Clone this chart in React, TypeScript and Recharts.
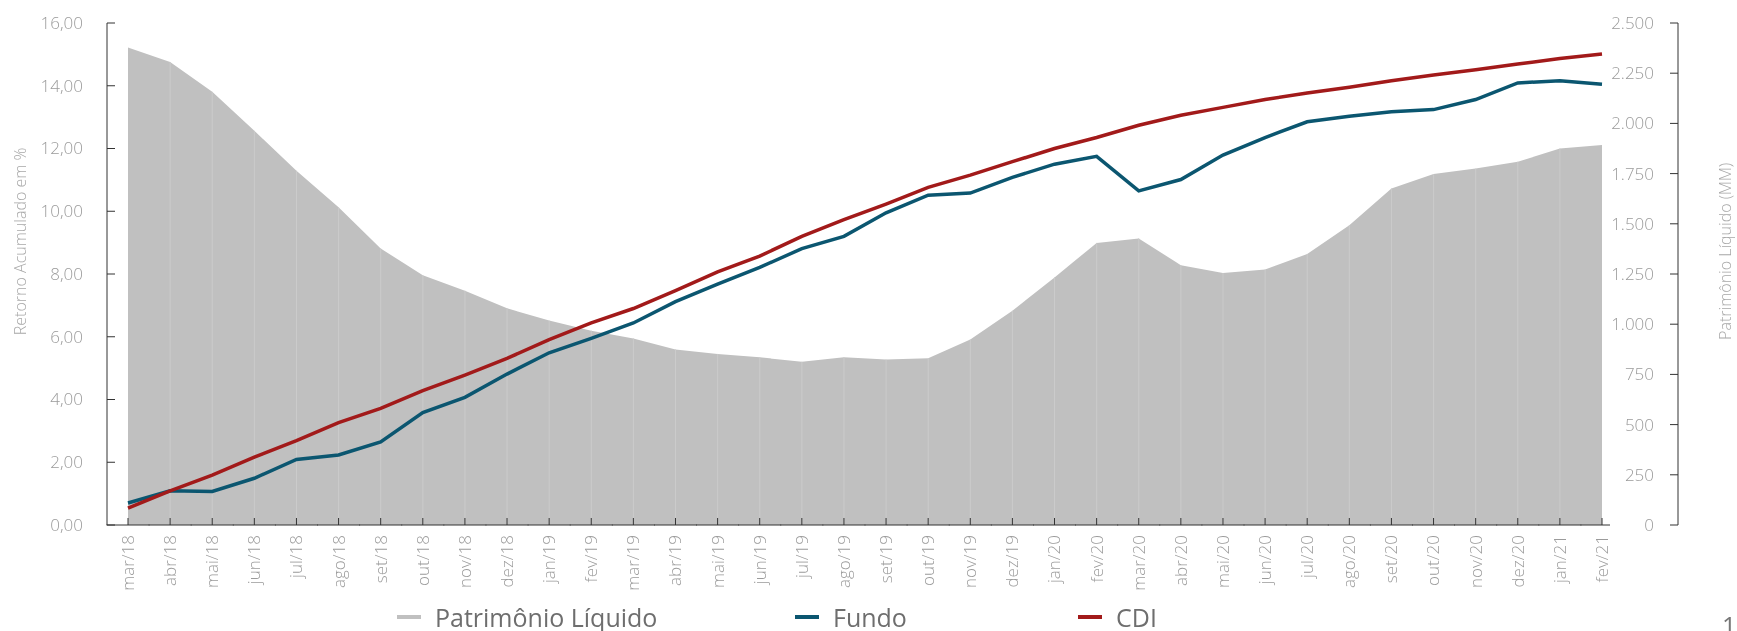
import { ComposedChart, Area, Line, XAxis, YAxis, ReferenceLine, Legend } from "recharts"

const months = [
  "mar/18", "abr/18", "mai/18", "jun/18", "jul/18", "ago/18", "set/18", "out/18", "nov/18", "dez/18",
  "jan/19", "fev/19", "mar/19", "abr/19", "mai/19", "jun/19", "jul/19", "ago/19", "set/19", "out/19", "nov/19", "dez/19",
  "jan/20", "fev/20", "mar/20", "abr/20", "mai/20", "jun/20", "jul/20", "ago/20", "set/20", "out/20", "nov/20", "dez/20",
  "jan/21", "fev/21",
]

// Patrimônio Líquido (MM) - eixo direito
const patrimonio = [
  2378, 2306, 2157, 1963, 1764, 1582, 1377, 1244, 1167, 1079,
  1018, 968, 929, 874, 852, 835, 813, 835, 824, 830, 924, 1067,
  1233, 1405, 1427, 1294, 1255, 1272, 1350, 1493, 1676, 1748, 1775, 1809,
  1875, 1892,
]

// Retorno acumulado em % - eixo esquerdo
const fundo = [
  0.7, 1.09, 1.07, 1.49, 2.09, 2.23, 2.65, 3.58, 4.07, 4.81,
  5.49, 5.95, 6.44, 7.12, 7.68, 8.21, 8.81, 9.2, 9.95, 10.51, 10.58, 11.08,
  11.5, 11.75, 10.65, 11.01, 11.79, 12.35, 12.85, 13.03, 13.17, 13.24, 13.56, 14.09,
  14.16, 14.05,
]

const cdi = [
  0.54, 1.09, 1.59, 2.16, 2.69, 3.26, 3.72, 4.28, 4.78, 5.31,
  5.91, 6.44, 6.9, 7.47, 8.07, 8.57, 9.2, 9.73, 10.23, 10.76, 11.15, 11.58,
  12.0, 12.35, 12.74, 13.06, 13.31, 13.56, 13.77, 13.95, 14.16, 14.34, 14.51, 14.69,
  14.87, 15.01,
]

const retornoTicks = [0, 2, 4, 6, 8, 10, 12, 14, 16]
const plTicks = [0, 250, 500, 750, 1000, 1250, 1500, 1750, 2000, 2250, 2500]

const data = months.map((mes, i) => ({
  mes,
  pl: patrimonio[i],
  fundo: fundo[i],
  cdi: cdi[i],
}))

const FONT = "'Open Sans', sans-serif"
const TICK_GRAY = "#9b9b9b"
const AXIS_COLOR = "#333333"
const PL_COLOR = "#c0c0c0"
const FUNDO_COLOR = "#0b5670"
const CDI_COLOR = "#a21a1a"

const legendItems = [
  { label: "Patrimônio Líquido", color: PL_COLOR, left: 389 },
  { label: "Fundo", color: FUNDO_COLOR, left: 787 },
  { label: "CDI", color: CDI_COLOR, left: 1070 },
]

const fmtRetorno = (v: number) => v.toFixed(2).replace(".", ",")
const fmtPl = (v: number) => v.toLocaleString("de-DE")

const tickText = { fill: TICK_GRAY, fontSize: 17, fontWeight: 300, fontFamily: FONT }

function LeftTick({ x, y, payload }: any) {
  return (
    <g>
      <line x1={x} x2={x + 8} y1={y} y2={y} stroke={AXIS_COLOR} />
      <text x={x - 24} y={y} dy="0.35em" textAnchor="end" {...tickText}>
        {fmtRetorno(payload.value)}
      </text>
    </g>
  )
}

// the baseline stops just after the last month (right axis stands apart)
function MonthTick({ x, y, payload, index, visibleTicksCount }: any) {
  const ty = y + 10
  const last = index === visibleTicksCount - 1
  return (
    <g>
      <line x1={x - 21.5} x2={last ? x + 8 : x + 21.5} y1={y} y2={y} stroke={AXIS_COLOR} />
      <line x1={x} x2={x} y1={y - 7} y2={y} stroke={AXIS_COLOR} />
      <text x={x} y={ty} dy="0.35em" transform={`rotate(-90 ${x} ${ty})`} textAnchor="end" {...tickText}>
        {payload.value}
      </text>
    </g>
  )
}

function axisTitle(text: string, getX: (vb: any) => number, ratio: number) {
  return ({ viewBox }: any) => {
    const cx = getX(viewBox)
    const cy = viewBox.y + viewBox.height * ratio
    return (
      <text
        x={cx}
        y={cy}
        dy="0.35em"
        transform={`rotate(-90 ${cx} ${cy})`}
        textAnchor="middle"
        fill="#a8a8a8"
        fontSize={16}
        fontWeight={300}
        fontFamily={FONT}
      >
        {text}
      </text>
    )
  }
}

function ChartLegend() {
  return (
    <div style={{ position: "relative", width: 1729, height: 40, fontFamily: FONT, color: "#6e6e6e" }}>
      {legendItems.map((item) => (
        <div
          key={item.label}
          style={{
            position: "absolute",
            left: item.left,
            top: 9,
            height: 34,
            lineHeight: "34px",
            display: "flex",
            alignItems: "center",
            fontSize: 25,
            whiteSpace: "nowrap",
          }}
        >
          <span style={{ display: "inline-block", width: 24, height: 4, background: item.color, marginRight: 14 }} />
          {item.label}
        </div>
      ))}
      <div style={{ position: "absolute", left: 1714, top: 17, fontSize: 25, lineHeight: "34px", color: "#777" }}>1</div>
    </div>
  )
}

export default function App() {
  return (
    <div style={{ position: "fixed", top: 8, left: 8, width: 1729, height: 623, overflow: "hidden", fontFamily: FONT }}>
      <ComposedChart width={1729} height={623} data={data} margin={{ top: 15, right: 59, bottom: 0, left: 0 }}>
        <XAxis
          dataKey="mes"
          interval={0}
          height={66}
          padding={{ left: 21, right: 76 }}
          axisLine={false}
          tickLine={false}
          tickSize={0}
          tickMargin={0}
          tick={<MonthTick />}
        />
        <YAxis
          yAxisId="left"
          orientation="left"
          width={99}
          domain={[0, 16]}
          ticks={retornoTicks}
          axisLine={{ stroke: AXIS_COLOR }}
          tickLine={false}
          tickSize={0}
          tickMargin={0}
          tick={<LeftTick />}
          label={{ content: axisTitle("Retorno Acumulado em %", (vb) => vb.x + 12, 0.435) }}
        />
        <YAxis
          yAxisId="right"
          orientation="right"
          mirror
          width={60}
          domain={[0, 2500]}
          ticks={plTicks}
          tickFormatter={fmtPl}
          axisLine={{ stroke: AXIS_COLOR }}
          tickLine={{ stroke: AXIS_COLOR }}
          tickSize={8}
          tickMargin={16}
          tick={tickText}
          label={{ content: axisTitle("Patrimônio Líquido (MM)", (vb) => vb.x + vb.width + 47, 0.455) }}
        />
        <Area
          yAxisId="right"
          type="linear"
          dataKey="pl"
          name="Patrimônio Líquido"
          fill={PL_COLOR}
          fillOpacity={1}
          stroke="none"
          dot={false}
          activeDot={false}
          isAnimationActive={false}
        />
        {months.slice(1, -1).map((mes, i) => (
          <ReferenceLine
            key={mes}
            yAxisId="right"
            segment={[
              { x: mes, y: 0 },
              { x: mes, y: patrimonio[i + 1] },
            ]}
            stroke="#cbcbcb"
            strokeWidth={1}
          />
        ))}
        <Line
          yAxisId="left"
          type="linear"
          dataKey="fundo"
          name="Fundo"
          stroke={FUNDO_COLOR}
          strokeWidth={3.5}
          dot={false}
          activeDot={false}
          isAnimationActive={false}
        />
        <Line
          yAxisId="left"
          type="linear"
          dataKey="cdi"
          name="CDI"
          stroke={CDI_COLOR}
          strokeWidth={3.5}
          dot={false}
          activeDot={false}
          isAnimationActive={false}
        />
        <Legend verticalAlign="bottom" content={<ChartLegend />} wrapperStyle={{ left: 0, bottom: 0, width: 1729, height: 40 }} />
      </ComposedChart>
    </div>
  )
}
